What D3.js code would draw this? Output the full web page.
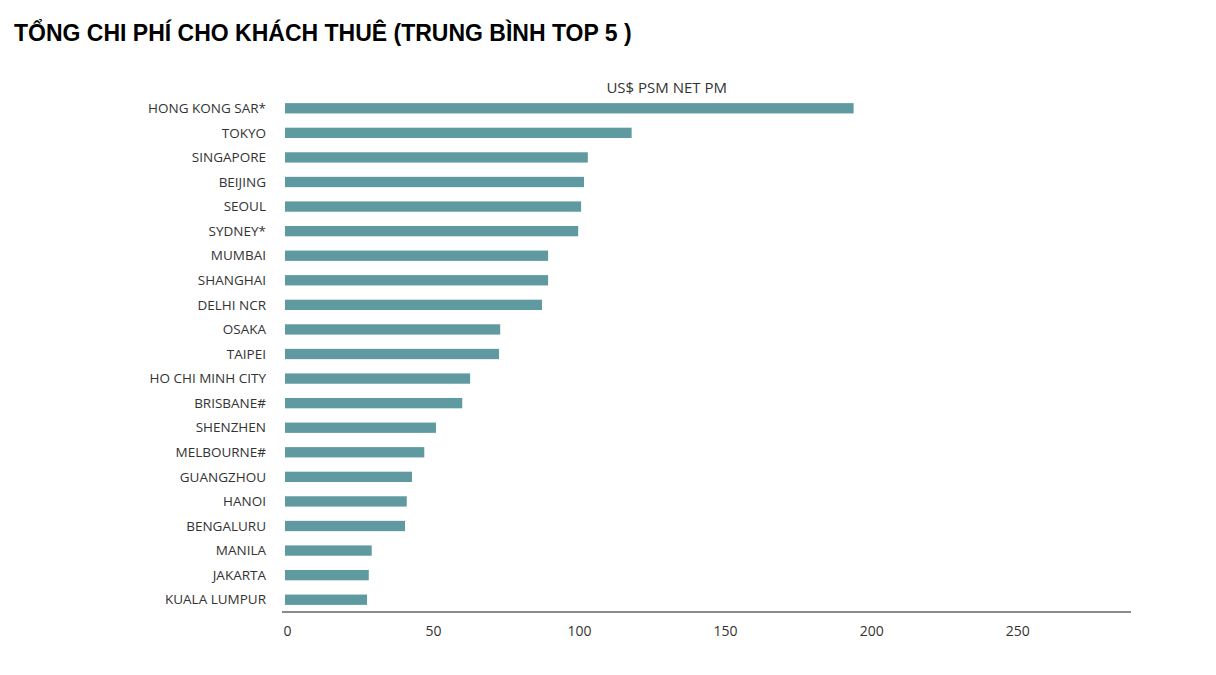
<!DOCTYPE html>
<html><head><meta charset="utf-8">
<script src="https://cdn.jsdelivr.net/npm/d3@7"></script>
<style>body{margin:0;background:#fff}</style></head>
<body><svg id="c" width="1216" height="675"></svg>
<script>
const cities=["HONG KONG SAR*","TOKYO","SINGAPORE","BEIJING","SEOUL","SYDNEY*","MUMBAI","SHANGHAI","DELHI NCR","OSAKA","TAIPEI","HO CHI MINH CITY","BRISBANE#","SHENZHEN","MELBOURNE#","GUANGZHOU","HANOI","BENGALURU","MANILA","JAKARTA","KUALA LUMPUR"];
const values=[194,118,103,101.7,100.7,99.7,89.4,89.4,87.3,73,72.6,62.7,60,51,47,42.8,41,40.4,29,28,27.4];
const ticks=[0,50,100,150,200,250];
const title="TỔNG CHI PHÍ CHO KHÁCH THUÊ (TRUNG BÌNH TOP 5 )";
const unit="US$ PSM NET PM";

const svg=d3.select("#c");
const font="'Open Sans', 'DejaVu Sans', sans-serif";
svg.append("text").attr("x",14).attr("y",41).attr("font-family","'Liberation Sans', Arial, sans-serif")
  .attr("font-weight","bold").attr("font-size",23).attr("fill","#000").text(title);

const x=d3.scaleLinear().domain([0,290]).range([287,1134]);
const y=d3.scaleBand().domain(cities).range([96,612]).paddingInner(0.58).paddingOuter(0.29);

svg.append("text").attr("x",x(130)).attr("y",93).attr("text-anchor","middle")
  .attr("font-family",font).attr("font-size",15).attr("fill","#333").text(unit);

svg.append("g").selectAll("rect").data(values).join("rect")
  .attr("x",x(0)-2).attr("y",(d,i)=>y(cities[i])).attr("width",d=>x(d)-x(0)+2)
  .attr("height",y.bandwidth()).attr("fill","#5f9aa0");

svg.append("g").selectAll("text").data(cities).join("text")
  .attr("x",266).attr("y",d=>y(d)+y.bandwidth()/2).attr("dy","0.35em").attr("text-anchor","end")
  .attr("font-family",font).attr("font-size",13.5).attr("fill","#333").text(d=>d);

const ax=svg.append("g").attr("transform","translate(0,612)")
  .call(d3.axisBottom(x).tickValues(ticks).tickSize(0).tickPadding(14));
ax.select(".domain").attr("stroke","#666").attr("stroke-width",1.5).attr("d",`M${x(0)-5},0H1131`);
ax.selectAll("text").attr("font-family",font).attr("font-size",14).attr("fill","#333");
</script></body></html>
